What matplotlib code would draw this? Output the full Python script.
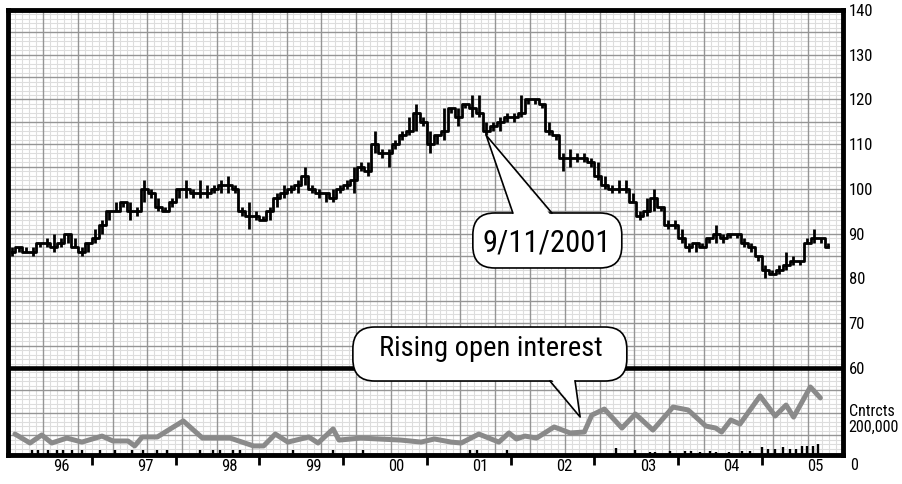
import numpy as np
import matplotlib
matplotlib.use("Agg")
import matplotlib.pyplot as plt
from matplotlib import font_manager
from matplotlib.patches import FancyBboxPatch, Polygon

# pick a narrow sans if there is one
names = {f.name for f in font_manager.fontManager.ttflist}
narrow = [n for n in ["Liberation Sans Narrow", "Roboto Condensed"] if n in names]
plt.rcParams["font.family"] = narrow[:1] + ["DejaVu Sans"]
if not narrow:
    plt.rcParams["font.stretch"] = "condensed"

# monthly price bars, Jan 1996 .. Oct 2005
close = [86, 87, 86, 86, 88, 88, 87, 88, 90, 87, 86, 88,
         89, 92, 95, 95, 97, 95, 95, 100, 99, 96, 95, 97,
         100, 100, 99, 99, 99, 100, 101, 101, 100, 95, 94, 94,
         93, 95, 98, 99, 100, 101, 103, 100, 99, 99, 98, 100,
         101, 102, 105, 104, 110, 108, 108, 110, 112, 113, 117, 115,
         110, 112, 113, 118, 116, 119, 118, 117, 113, 114, 115, 116,
         116, 117, 120, 120, 119, 113, 112, 107, 107, 107, 107, 106,
         103, 101, 100, 100, 100, 97, 94, 95, 98, 96, 92, 92,
         89, 87, 88, 87, 89, 90, 89, 90, 90, 88, 87, 85,
         82, 81, 82, 83, 84, 84, 88, 89, 89, 87]
low = [85, 86, 86, 85, 87, 87, 86, 87, 88, 87, 85, 86,
       88, 90, 93, 95, 96, 93, 94, 97, 98, 95, 95, 96,
       98, 98, 98, 98, 98, 99, 99, 99, 99, 94, 91, 93,
       93, 93, 96, 98, 99, 99, 101, 99, 98, 97, 97, 99,
       100, 99, 104, 103, 108, 107, 105, 109, 111, 112, 113, 114,
       108, 110, 111, 117, 114, 118, 116, 116, 112, 113, 113, 115,
       115, 116, 119, 119, 118, 112, 111, 104, 105, 106, 106, 105,
       102, 100, 99, 99, 99, 97, 93, 94, 95, 95, 91, 91,
       88, 86, 86, 87, 88, 88, 88, 89, 89, 87, 86, 84,
       80, 81, 81, 82, 83, 83, 88, 88, 88, 87]
high = [87, 87, 87, 87, 88, 89, 90, 89, 90, 89, 87, 88,
        91, 93, 95, 97, 97, 97, 96, 102, 100, 98, 96, 98,
        100, 102, 100, 102, 101, 101, 102, 103, 101, 96, 97, 95,
        94, 96, 99, 101, 101, 102, 105, 101, 100, 99, 100, 101,
        102, 105, 106, 106, 113, 109, 109, 111, 113, 116, 119, 116,
        113, 112, 118, 118, 118, 119, 121, 121, 115, 115, 116, 117,
        117, 121, 120, 120, 119, 115, 112, 108, 109, 108, 108, 107,
        106, 103, 101, 102, 102, 99, 95, 98, 100, 96, 93, 93,
        91, 88, 88, 88, 89, 92, 90, 90, 90, 89, 88, 85,
        83, 82, 83, 86, 85, 84, 89, 91, 89, 88]

# open interest, thousands of contracts
oi_t = [1996.08, 1996.26, 1996.40, 1996.52, 1996.70, 1996.88, 1997.12, 1997.25,
        1997.43, 1997.51, 1997.60, 1997.78, 1998.09, 1998.32, 1998.65, 1998.93,
        1999.05, 1999.19, 1999.34, 1999.59, 1999.70, 1999.88, 1999.95, 2000.21,
        2000.69, 2000.93, 2001.09, 2001.29, 2001.41, 2001.62, 2001.86, 2001.98,
        2002.07, 2002.17, 2002.31, 2002.52, 2002.71, 2002.88, 2002.97, 2003.12,
        2003.33, 2003.49, 2003.70, 2003.94, 2004.12, 2004.33, 2004.45, 2004.52,
        2004.63, 2004.74, 2004.98, 2005.16, 2005.29, 2005.38, 2005.58, 2005.70]
oi = [112, 63, 107, 63, 90, 68, 101, 74,
      74, 47, 96, 96, 184, 90, 90, 47,
      47, 112, 68, 96, 63, 140, 79, 90,
      79, 68, 85, 68, 63, 112, 68, 118,
      85, 101, 90, 151, 118, 123, 216, 249,
      145, 222, 134, 260, 244, 156, 145, 123,
      189, 167, 321, 211, 271, 205, 370, 310]

# volume ticks, thousands
vol_t = [1996.28, 1996.36, 1996.47, 1996.58, 1996.65, 1996.76, 1996.88, 1997.10,
         1997.28, 1997.48, 1997.61, 1997.78, 1997.90, 1998.29, 1998.45, 1998.53,
         1998.68, 1998.77, 1999.40, 1999.88, 2000.24, 2001.51, 2001.60, 2001.96,
         2003.26, 2003.48, 2003.66, 2003.73, 2003.90, 2004.08, 2004.16, 2004.26,
         2004.38, 2004.45, 2004.61, 2004.76, 2004.86, 2005.00, 2005.07, 2005.16,
         2005.25, 2005.34, 2005.41, 2005.48, 2005.54, 2005.61, 2005.67]
vol = [22, 22, 22, 22, 22, 22, 22, 22,
       22, 22, 22, 22, 22, 22, 22, 22,
       22, 22, 22, 22, 22, 22, 22, 25,
       36, 25, 16, 16, 19, 19, 19, 14,
       19, 14, 14, 19, 19, 41, 30, 30,
       41, 30, 30, 47, 47, 47, 58]

years = list(range(1996, 2006))
year_labels = ["96", "97", "98", "99", "00", "01", "02", "03", "04", "05"]
price_ticks = [60, 70, 80, 90, 100, 110, 120, 130, 140]

W, H = 902, 484
fig = plt.figure(figsize=(W / 100, H / 100), dpi=100)
left, right, top, bot, sep = 8.25, 843, 10, 454.5, 368
ax = fig.add_axes([left / W, 1 - bot / H, (right - left) / W, (bot - top) / H])
ax2 = fig.add_axes([left / W, 1 - bot / H, (right - left) / W, (bot - sep) / H])

x0, x1 = 1996.0, 2005.97
ymin = 60 - (bot - sep) / ((sep - top) / 80.0)
ax.set_xlim(x0, x1)
ax.set_ylim(ymin, 140)

# graph paper
cell = (x1 - x0) / 24
gx = x0 + np.arange(1, 120) * cell / 5
gy = np.arange(41, 140)
ax.vlines([v for k, v in enumerate(gx, 1) if k % 5], ymin, 140, color="#dddddd", lw=0.8, zorder=0)
ax.hlines([v for v in gy if v % 5], x0, x1, color="#dddddd", lw=0.8, zorder=0)
ax.vlines([v for k, v in enumerate(gx, 1) if k % 5 == 0], ymin, 140, color="#959595", lw=1.0, zorder=1)
ax.hlines([v for v in gy if v % 5 == 0], x0, x1, color="#959595", lw=1.0, zorder=1)
ax.axhline(60, color="black", lw=3.3, zorder=3)

# price bars
t = 1996 + (np.arange(len(close)) + 0.5) / 12
ax.step(t, close, where="mid", color="black", lw=2.0, zorder=4)
ax.vlines(t, low, high, color="black", lw=2.0, zorder=4)

# open interest and volume
ax2.set_xlim(x0, x1)
ax2.set_ylim(0, 200 * (bot - sep) / 36.5)
ax2.patch.set_visible(False)
ax2.plot(oi_t, oi, color="#8a8a8a", lw=3.6, solid_joinstyle="round",
         solid_capstyle="round", zorder=3)
ax2.vlines(vol_t, 0, vol, color="black", lw=1.7, zorder=2)
for s in ax2.spines.values():
    s.set_visible(False)
ax2.set_xticks([])
ax2.yaxis.tick_right()
ax2.set_yticks([200])
ax2.set_yticklabels(["Cntrcts\n200,000"], fontsize=11.5, linespacing=1.0)
ax2.tick_params(axis="y", length=0, pad=4)
ax2.annotate("0", xy=(1, 0), xycoords="axes fraction", xytext=(5, -8),
             textcoords="offset points", va="center", ha="left", fontsize=11.5)

# axes frame and ticks
for s in ax.spines.values():
    s.set_linewidth(3.5)
    s.set_zorder(8)
ax.yaxis.tick_right()
ax.set_yticks(price_ticks)
ax.set_yticklabels([str(v) for v in price_ticks], fontsize=12)
ax.tick_params(axis="y", length=0, pad=4)
ax.set_xticks(years[1:])
ax.set_xticklabels([])
ax.tick_params(axis="x", which="major", direction="out", length=7, width=2)
ax.set_xticks([y + 0.64 for y in years], minor=True)
ax.set_xticklabels(year_labels, minor=True, fontsize=12)
ax.tick_params(axis="x", which="minor", length=0, pad=3)


def callout(bx0, bx1, by0, by1, edge, xa, xb, tip, text, tx, ty, size):
    asp = (1 / 4.475) / (1 / 83.75)
    box = FancyBboxPatch((bx0, by0), bx1 - bx0, by1 - by0,
                         boxstyle="round,pad=0,rounding_size=0.26",
                         mutation_aspect=asp, fc="white", ec="black", lw=1.2, zorder=6)
    ax.add_patch(box)
    inner = -0.6 if edge == by1 else 0.6
    ax.add_patch(Polygon([(xa + 0.01, edge + inner), tip, (xb - 0.01, edge + inner)],
                         closed=True, fc="white", ec="none", zorder=7))
    ax.plot([xa, tip[0], xb], [edge, tip[1], edge], color="black", lw=1.2, zorder=7)
    ax.text(tx, ty, text, ha="center", va="center", fontsize=size, zorder=8)


callout(2001.549, 2003.328, 82.35, 94.64, 94.64, 2002.027, 2002.493,
        (t[68], low[68]), "9/11/2001", 2002.43, 88.0, 22)
callout(2000.116, 2003.388, 57.09, 69.16, 57.09, 2002.47, 2002.77,
        (2002.83, 49.05), "Rising open interest", 2001.76, 64.4, 20.5)

fig.savefig("out.png", dpi=100)
